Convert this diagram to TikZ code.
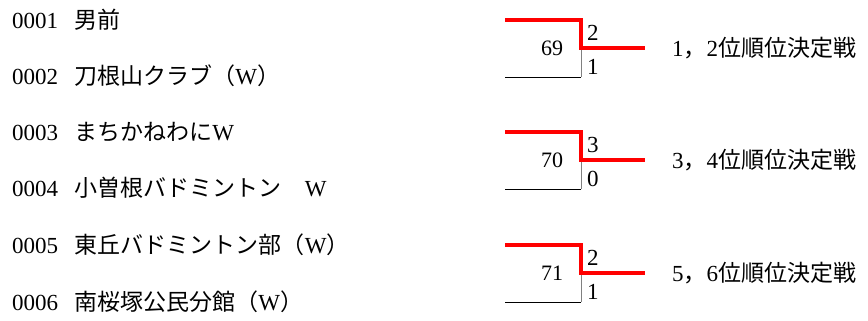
\documentclass[tikz,border=0pt]{standalone}
\usepackage{fontspec}
\setmainfont{Liberation Serif}
\newfontfamily\cjk{Noto Sans CJK JP}
\usepackage{tikz}
\usetikzlibrary{calc}
\definecolor{winred}{RGB}{255,0,0}
\tikzset{
    team/.style={anchor=west, inner sep=0pt, font=\fontsize{23}{26}\selectfont},
    score/.style={inner sep=0pt, font=\fontsize{22}{26}\selectfont},
    result/.style={anchor=west, inner sep=0pt, font=\fontsize{23}{26}\selectfont},
    winline/.style={line width=3.5pt, winred},
}

\begin{document}
\begin{tikzpicture}[x=1pt, y=-1pt]
    \useasboundingbox (0,0) rectangle (868,321);
    % teams
    \node[team] (p1) at (12,20) {0001\hspace{0.7em}{\cjk 男前}};
    \node[team] (p2) at (12,76) {0002\hspace{0.7em}{\cjk 刀根山クラブ（}W{\cjk ）}};
    \node[team] (p3) at (12,132) {0003\hspace{0.7em}{\cjk まちかねわに}W};
    \node[team] (p4) at (12,188) {0004\hspace{0.7em}{\cjk 小曽根バドミントン　}W};
    \node[team] (p5) at (12,245) {0005\hspace{0.7em}{\cjk 東丘バドミントン部（}W{\cjk ）}};
    \node[team] (p6) at (12,302) {0006\hspace{0.7em}{\cjk 南桜塚公民分館（}W{\cjk ）}};

    % match 69
    \coordinate (a1) at (505,20);
    \coordinate (j1) at (581,48);
    \coordinate (k1) at (581,77);
    \coordinate (z1) at (505,77);
    \coordinate (w1) at (645,48);
    \draw[gray, line width=1pt] (j1) -- (k1);
    \draw[line width=0.8pt] (k1) -- (z1);
    \draw[winline] (a1) -| (j1) -- (w1);
    \node[score] (m69) at (552,48) {69};
    \node[team] (s1a) at (587,33) {2};
    \node[team] (s1b) at (587,67) {1};
    \node[result] (r1) at (672,48) {1{\cjk ，}2{\cjk 位順位決定戦}};

    % match 70
    \coordinate (a2) at (505,132);
    \coordinate (j2) at (581,160);
    \coordinate (k2) at (581,189);
    \coordinate (z2) at (505,189);
    \coordinate (w2) at (645,160);
    \draw[gray, line width=1pt] (j2) -- (k2);
    \draw[line width=0.8pt] (k2) -- (z2);
    \draw[winline] (a2) -| (j2) -- (w2);
    \node[score] (m70) at (552,160) {70};
    \node[team] (s2a) at (587,145) {3};
    \node[team] (s2b) at (587,179) {0};
    \node[result] (r2) at (672,160) {3{\cjk ，}4{\cjk 位順位決定戦}};

    % match 71
    \coordinate (a3) at (505,245);
    \coordinate (j3) at (581,273);
    \coordinate (k3) at (581,302);
    \coordinate (z3) at (505,302);
    \coordinate (w3) at (645,273);
    \draw[gray, line width=1pt] (j3) -- (k3);
    \draw[line width=0.8pt] (k3) -- (z3);
    \draw[winline] (a3) -| (j3) -- (w3);
    \node[score] (m71) at (552,273) {71};
    \node[team] (s3a) at (587,258) {2};
    \node[team] (s3b) at (587,292) {1};
    \node[result] (r3) at (672,273) {5{\cjk ，}6{\cjk 位順位決定戦}};
\end{tikzpicture}
\end{document}
